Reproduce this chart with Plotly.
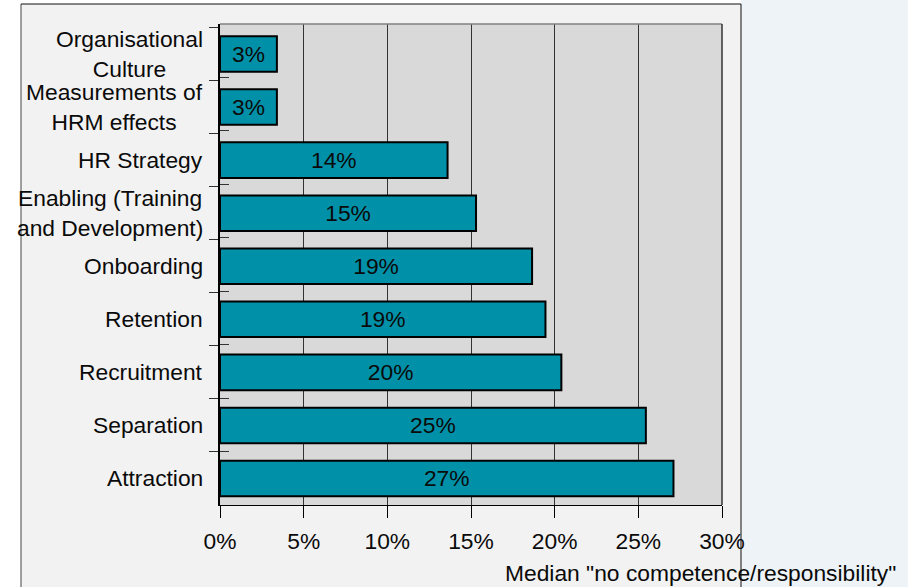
import plotly.graph_objects as go

categories = ["Organisational Culture", "Measurements of HRM effects", "HR Strategy",
              "Enabling (Training and Development)", "Onboarding", "Retention",
              "Recruitment", "Separation", "Attraction"]
tick_labels = ["Organisational<br>Culture", "Measurements of<br>HRM effects", "HR Strategy",
               "Enabling (Training<br>and Development)", "Onboarding", "Retention",
               "Recruitment", "Separation", "Attraction"]
values = [3.4, 3.4, 13.6, 15.3, 18.65, 19.45, 20.4, 25.45, 27.1]
bar_labels = ["3%", "3%", "14%", "15%", "19%", "19%", "20%", "25%", "27%"]
x_ticks = [0, 5, 10, 15, 20, 25, 30]
x_tick_text = ["0%", "5%", "10%", "15%", "20%", "25%", "30%"]
x_title = 'Median "no competence/responsibility"'

FONT = "Liberation Sans Narrow, Arial Narrow, Liberation Sans, Arial, sans-serif"
FS = 22.8
TXT = "#0a0a0a"

fig = go.Figure()
fig.add_trace(go.Bar(
    y=categories, x=values, orientation="h",
    marker=dict(color="#0090a7", line=dict(color="#000000", width=2)),
    text=bar_labels, textposition="inside", insidetextanchor="middle",
    textfont=dict(family=FONT, size=FS, color=TXT),
    constraintext="none", hoverinfo="skip",
))
# invisible twin trace so the overlaid axis carries the inner half of the crossing ticks
fig.add_trace(go.Bar(
    y=categories, x=values, orientation="h", yaxis="y2",
    marker=dict(color="rgba(0,0,0,0)", line=dict(width=0)),
    hoverinfo="skip", showlegend=False,
))

for cat, lab in zip(categories, tick_labels):
    fig.add_annotation(x=0, xref="paper", y=cat, yref="y", text=lab,
                       xanchor="right", yanchor="middle", align="center",
                       xshift=-15, showarrow=False,
                       font=dict(family=FONT, size=FS, color=TXT))

L, R, T, B = 220, 186, 24, 82
W, H = 908, 587
pw, ph = W - L - R, H - T - B
def px(x): return (x - L) / pw
def py(y): return (H - B - y) / ph

fig.add_annotation(x=px(898), xref="paper", y=py(573), yref="paper", text=x_title,
                   xanchor="right", yanchor="middle", showarrow=False,
                   font=dict(family=FONT, size=FS, color=TXT))

shapes = [
    dict(type="rect", xref="paper", yref="paper", x0=px(-10), x1=px(21), y0=py(700), y1=py(-10),
         fillcolor="#ffffff", line=dict(width=0), layer="below"),
    dict(type="rect", xref="paper", yref="paper", x0=px(21), x1=px(741), y0=py(4), y1=py(-10),
         fillcolor="#ffffff", line=dict(width=0), layer="below"),
    dict(type="rect", xref="paper", yref="paper", x0=px(741), x1=px(1000), y0=py(700), y1=py(-10),
         fillcolor="#eef3f7", line=dict(width=0), layer="below"),
    dict(type="line", xref="paper", yref="paper", x0=px(21), x1=px(21), y0=py(4), y1=py(700),
         line=dict(color="#444444", width=1), layer="below"),
    dict(type="line", xref="paper", yref="paper", x0=px(21), x1=px(741), y0=py(4), y1=py(4),
         line=dict(color="#111111", width=1), layer="below"),
    dict(type="line", xref="paper", yref="paper", x0=px(741), x1=px(741), y0=py(4), y1=py(700),
         line=dict(color="#111111", width=1), layer="below"),
    dict(type="line", xref="paper", yref="paper", x0=0, x1=1, y0=1, y1=1,
         line=dict(color="#808080", width=1.5), layer="above"),
    dict(type="line", xref="paper", yref="paper", x0=1, x1=1, y0=0, y1=1,
         line=dict(color="#333333", width=1.5), layer="above"),
]

fig.update_layout(
    width=W, height=H,
    margin=dict(l=L, r=R, t=T, b=B, pad=0),
    paper_bgcolor="#f2f2f2", plot_bgcolor="#d9d9d9",
    showlegend=False, bargap=0.33, barmode="overlay",
    shapes=shapes,
    font=dict(family=FONT, size=FS, color=TXT),
    yaxis2=dict(overlaying="y", side="left", anchor="x", autorange="reversed",
                type="category", showticklabels=False, showline=False,
                ticks="inside", ticklen=9, tickcolor="#333333", tickwidth=1,
                tickson="boundaries", showgrid=False, zeroline=False, fixedrange=True),
)
fig.update_xaxes(range=[0, 30], tickvals=x_ticks, ticktext=x_tick_text,
                 showgrid=True, gridcolor="#333333", gridwidth=1,
                 showline=True, linecolor="#000000", linewidth=1,
                 ticks="outside", ticklen=12, tickcolor="#000000", tickwidth=1,
                 ticklabelstandoff=4,
                 tickfont=dict(family=FONT, size=FS, color=TXT),
                 zeroline=False, fixedrange=True)
fig.update_yaxes(selector=dict(overlaying=None), autorange="reversed", type="category",
                 showticklabels=False, showline=True, linecolor="#000000", linewidth=1.5,
                 ticks="outside", ticklen=9, tickcolor="#333333", tickwidth=1,
                 tickson="boundaries", showgrid=False, fixedrange=True)
fig.layout.yaxis2.overlaying = "y"
fig.layout.yaxis2.ticks = "inside"

fig.write_html("out.html")
